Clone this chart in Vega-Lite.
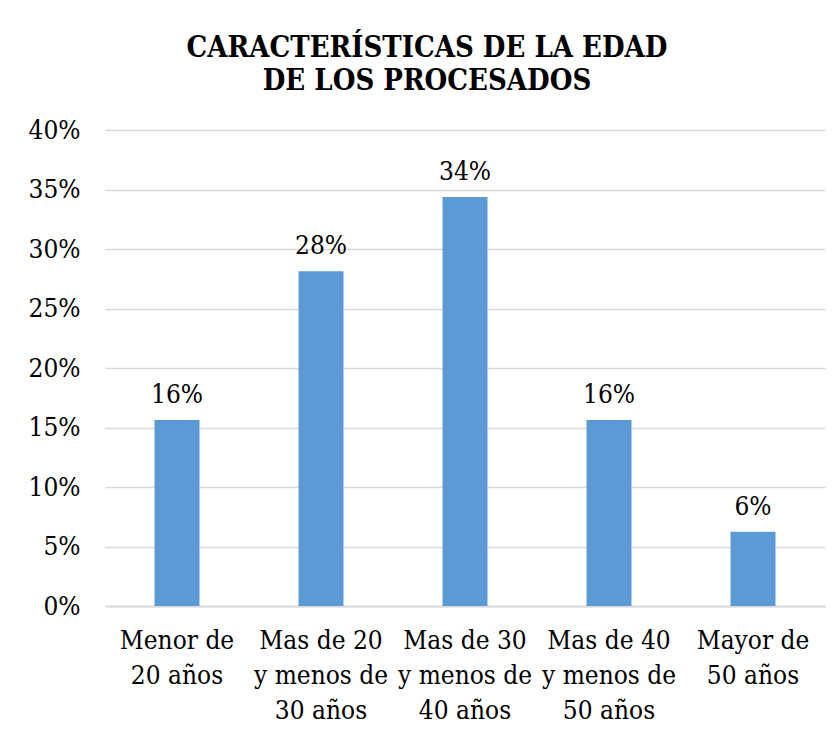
{
  "$schema": "https://vega.github.io/schema/vega-lite/v6.json",
  "width": 720,
  "height": 476,
  "autosize": {"type": "none"},
  "padding": {"left": 105, "top": 130, "right": 13, "bottom": 131},
  "background": "white",
  "config": {
    "view": {"stroke": null}
  },
  "title": {
    "text": ["CARACTERÍSTICAS DE LA EDAD", "DE LOS PROCESADOS"],
    "font": "DejaVu Serif Condensed",
    "fontWeight": "bold",
    "fontSize": 29,
    "lineHeight": 33,
    "color": "#000000",
    "anchor": "middle",
    "dx": -38,
    "offset": 21
  },
  "data": {
    "values": [
      {"grupo": "Menor de|20 años", "pct": 0.15625},
      {"grupo": "Mas de 20|y menos de|30 años", "pct": 0.28125},
      {"grupo": "Mas de 30|y menos de|40 años", "pct": 0.34375},
      {"grupo": "Mas de 40|y menos de|50 años", "pct": 0.15625},
      {"grupo": "Mayor de|50 años", "pct": 0.0625}
    ]
  },
  "encoding": {
    "x": {
      "field": "grupo",
      "type": "nominal",
      "sort": null,
      "scale": {"paddingInner": 0.6875, "paddingOuter": 0.34375},
      "axis": {
        "title": null,
        "labelAngle": 0,
        "labelExpr": "split(datum.label, '|')",
        "labelFont": "DejaVu Serif Condensed",
        "labelFontSize": 26,
        "labelLineHeight": 35,
        "labelColor": "#000000",
        "labelPadding": 21,
        "ticks": false,
        "domainColor": "#d9d9d9",
        "domainWidth": 2,
        "labelLimit": 0
      }
    },
    "y": {
      "field": "pct",
      "type": "quantitative",
      "scale": {"domain": [0, 0.4], "nice": false},
      "axis": {
        "title": null,
        "values": [0, 0.05, 0.1, 0.15, 0.2, 0.25, 0.3, 0.35, 0.4],
        "format": ".0%",
        "labelFont": "DejaVu Serif Condensed",
        "labelFontSize": 26,
        "labelColor": "#000000",
        "labelPadding": 25,
        "ticks": false,
        "domain": false,
        "gridColor": "#d9d9d9",
        "gridWidth": 1.5
      }
    }
  },
  "layer": [
    {"mark": {"type": "bar", "color": "#5B9BD5"}},
    {
      "mark": {"type": "text", "font": "DejaVu Serif Condensed", "fontSize": 26, "color": "#000000", "baseline": "alphabetic", "dy": -17},
      "encoding": {"text": {"field": "pct", "type": "quantitative", "format": ".0%"}}
    }
  ]
}
